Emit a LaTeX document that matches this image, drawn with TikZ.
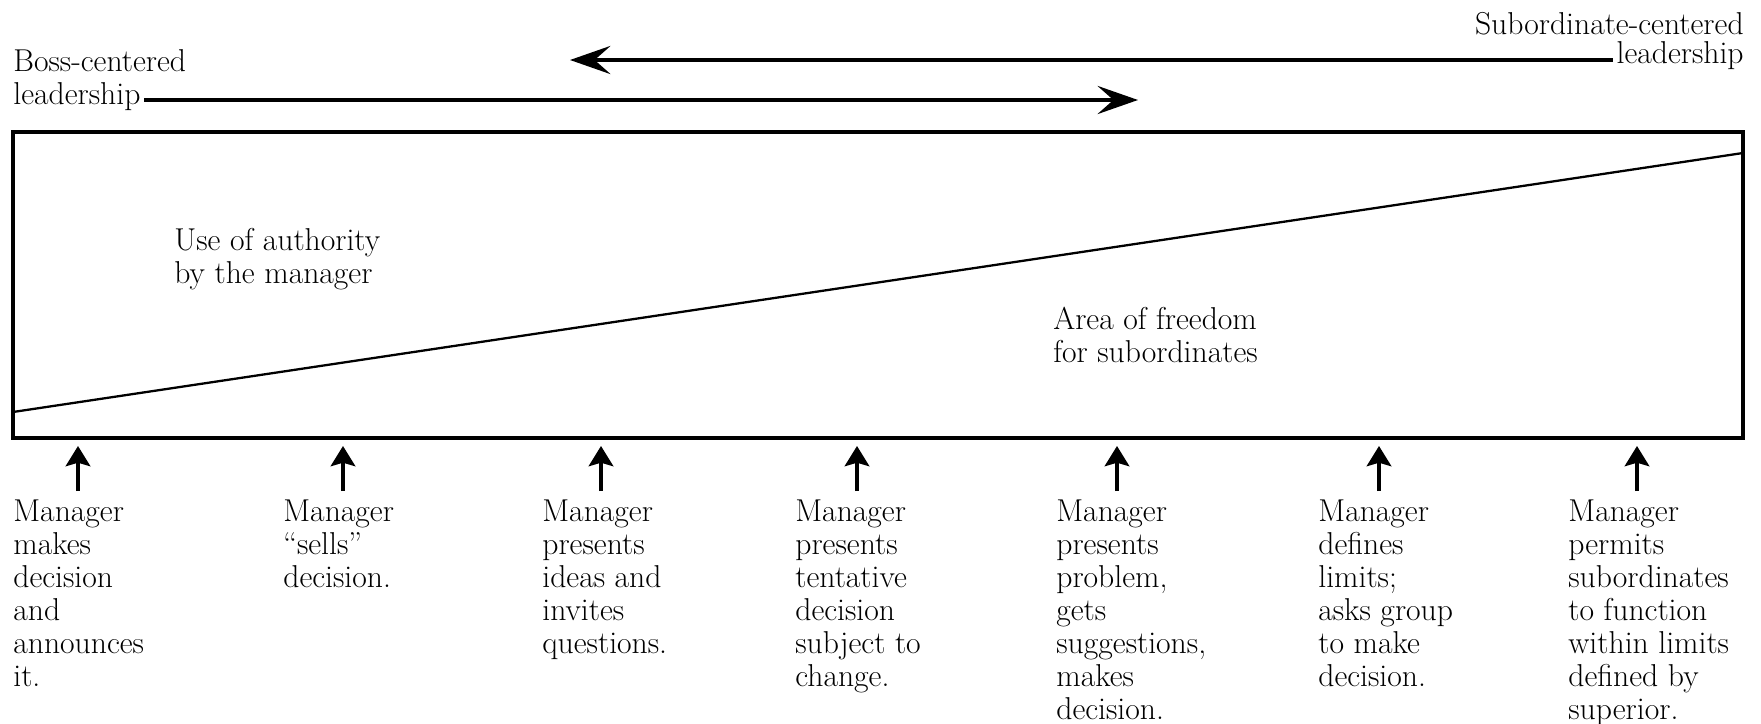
\documentclass[tikz,border=0pt]{standalone}
\usepackage{tikz}
\usetikzlibrary{arrows.meta}

\begin{document}
\begin{tikzpicture}[x=0.2mm, y=-0.2mm,
    txt/.style={inner sep=0pt, align=left, font=\fontsize{18pt}{18.7pt}\selectfont},
    bigarrow/.style={line width=2.5pt, -{Stealth[length=23pt,width=16pt,inset=9pt]}},
    uparrow/.style={line width=2pt, shorten <=5pt, -{Stealth[length=11.5pt,width=14pt,inset=2pt]}}]
    \useasboundingbox (0,0) rectangle (1761,724);
    \pgfmathsetmacro{\L}{13}
    \pgfmathsetmacro{\R}{1743}
    \pgfmathsetmacro{\T}{132}
    \pgfmathsetmacro{\B}{438}
    % top labels and their arrows
    \node[txt, anchor=base west] (boss1) at (13,71) {Boss-centered};
    \node[txt, anchor=base west] (boss2) at (13,104) {leadership};
    \node[txt, anchor=base east] (sub1) at (1744,34) {Subordinate-centered};
    \node[txt, anchor=base east] (sub2) at (1744,64) {leadership};
    \coordinate (bosstip) at (1138,100);
    \coordinate (subtip) at (570,60);
    \draw[bigarrow] ([xshift=2pt]boss2.base east |- bosstip) -- (bosstip);
    \draw[bigarrow] ([xshift=-2pt]sub2.base west |- subtip) -- (subtip);
    % the box and the dividing line
    \draw[line width=2.6pt] (\L,\T) rectangle (\R,\B);
    \draw[line width=1.3pt] (\L,412) -- (\R,153);
    \node[txt, anchor=north west] (auth) at (174,228) {Use of authority\\by the manager};
    \node[txt, anchor=north west] (free) at (1053,307) {Area of freedom\\for subordinates};
    % points on the scale
    \coordinate (a1) at (78,446);
    \coordinate (a2) at (343,446);
    \coordinate (a3) at (601,446);
    \coordinate (a4) at (857,446);
    \coordinate (a5) at (1117,446);
    \coordinate (a6) at (1379,446);
    \coordinate (a7) at (1637,446);
    \node[txt, anchor=north west] (c1) at (13,500) {Manager\\makes\\decision\\and\\announces\\it.};
    \node[txt, anchor=north west] (c2) at (283,500) {Manager\\“sells”\\decision.};
    \node[txt, anchor=north west] (c3) at (542,500) {Manager\\presents\\ideas and\\invites\\questions.};
    \node[txt, anchor=north west] (c4) at (795,500) {Manager\\presents\\tentative\\decision\\subject to\\change.};
    \node[txt, anchor=north west] (c5) at (1056,500) {Manager\\presents\\problem,\\gets\\suggestions,\\makes\\decision.};
    \node[txt, anchor=north west] (c6) at (1318,500) {Manager\\defines\\limits;\\asks group\\to make\\decision.};
    \node[txt, anchor=north west] (c7) at (1568,500) {Manager\\permits\\subordinates\\to function\\within limits\\defined by\\superior.};
    \draw[uparrow] (c1.north -| a1) -- (a1);
    \draw[uparrow] (c2.north -| a2) -- (a2);
    \draw[uparrow] (c3.north -| a3) -- (a3);
    \draw[uparrow] (c4.north -| a4) -- (a4);
    \draw[uparrow] (c5.north -| a5) -- (a5);
    \draw[uparrow] (c6.north -| a6) -- (a6);
    \draw[uparrow] (c7.north -| a7) -- (a7);
\end{tikzpicture}
\end{document}
